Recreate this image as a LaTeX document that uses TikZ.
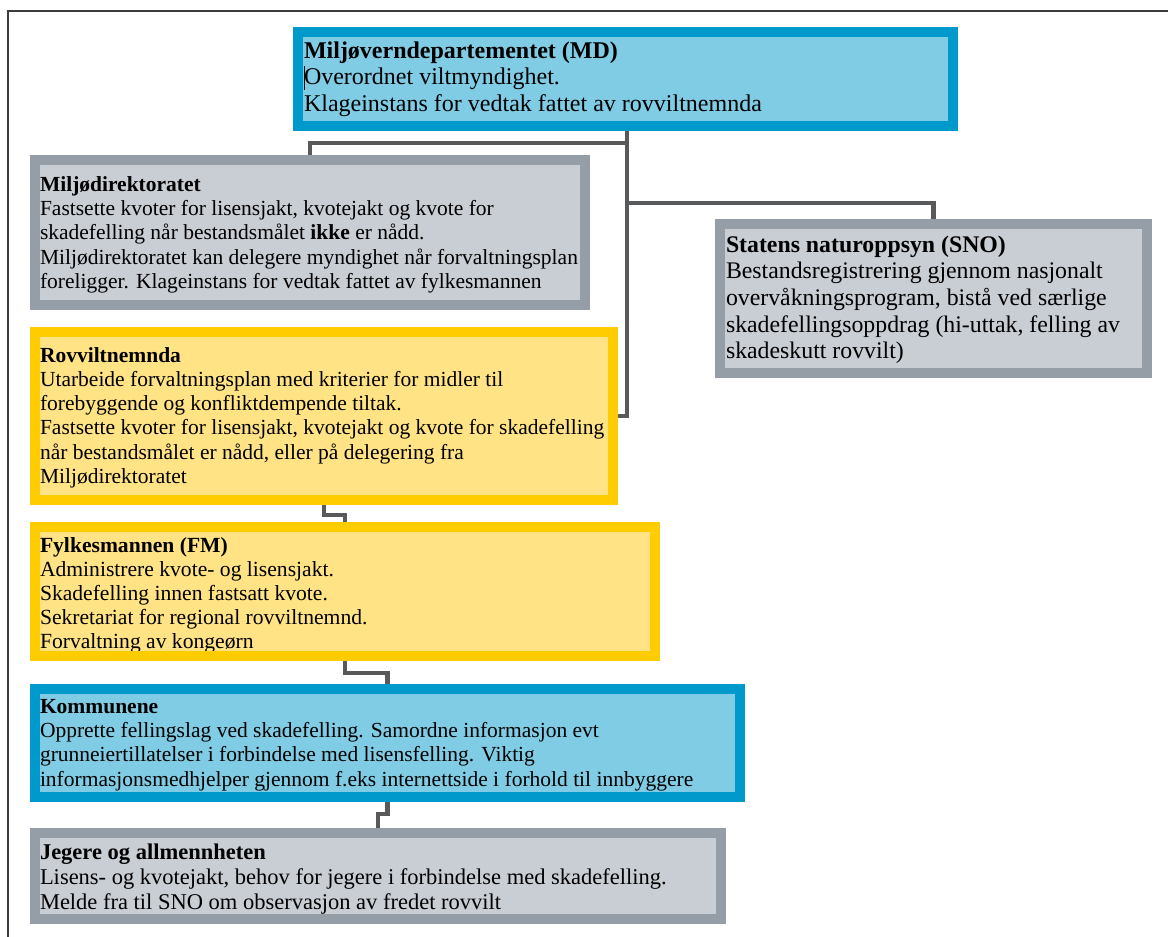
\documentclass[tikz,border=0pt]{standalone}
\usepackage{fontspec}
\setmainfont{Liberation Serif}
\usetikzlibrary{backgrounds,calc}
\definecolor{bluebd}{RGB}{0,153,204}
\definecolor{bluefill}{RGB}{127,204,228}
\definecolor{graybd}{RGB}{149,157,166}
\definecolor{grayfill}{RGB}{201,205,212}
\definecolor{yelbd}{RGB}{255,204,0}
\definecolor{yelfill}{RGB}{255,227,132}
\definecolor{connc}{RGB}{88,89,91}
\definecolor{framec}{RGB}{60,60,60}
\tikzset{
  orgbox/.style={rectangle, line width=10pt, inner sep=0pt, outer sep=0pt, anchor=north west},
  bluebox/.style={orgbox, draw=bluebd, fill=bluefill},
  graybox/.style={orgbox, draw=graybd, fill=grayfill},
  yelbox/.style={orgbox, draw=yelbd, fill=yelfill},
  conn/.style={draw=connc, line width=4.5pt, line join=miter},
  txt/.style={anchor=base west, inner sep=0pt, outer sep=0pt, text=black},
}
\newcommand{\boxtext}[3]{{\fontsize{#1}{#2}\selectfont\begin{tabular}[t]{@{}l@{}}#3\end{tabular}}}
\begin{document}
\begin{tikzpicture}[x=1pt,y=-1pt]
\useasboundingbox (0,0) rectangle (1168,937);

% boxes
\node[bluebox, minimum width=655pt, minimum height=94pt] (md) at (298,32) {};
\node[graybox, minimum width=550pt, minimum height=145pt] (mdir) at (35,160) {};
\node[graybox, minimum width=427pt, minimum height=149pt] (sno) at (720,224) {};
\node[yelbox, minimum width=578pt, minimum height=168pt] (rov) at (35,332) {};
\node[yelbox, minimum width=620pt, minimum height=129pt] (fm) at (35,527) {};
\node[bluebox, minimum width=705pt, minimum height=108pt] (kom) at (35,689) {};
\node[graybox, minimum width=686pt, minimum height=86pt] (jeg) at (35,833) {};

% connector joints
\coordinate (t1) at (627,143);
\coordinate (t2) at (627,203);
\coordinate (j4) at (0,515);
\coordinate (j5) at (0,673);
\coordinate (j6) at (0,814);

\begin{scope}[on background layer]
\fill[white] (0,0) rectangle (1168,937);
\draw[framec, line width=2pt] (7.5,937) -- (7.5,10.5) -- (1168,10.5);
\draw[conn] (md.south -| t1) -- (t1) -| (mdir.north);
\draw[conn] (t1) |- (rov.east);
\draw[conn] (t2) -| (sno.north);
\draw[conn] (rov.south) -- (rov.south |- j4) -| (fm.north);
\draw[conn] (fm.south) -- (fm.south |- j5) -| (kom.north);
\draw[conn] (kom.south) -- (kom.south |- j6) -| (jeg.north);
\end{scope}

% texts
\node[txt] (mdt) at (304,58) {\boxtext{24}{26.5}{\textbf{Miljøverndepartementet (MD)}\\Overordnet viltmyndighet.\\Klageinstans for vedtak fattet av rovviltnemnda}};
\draw[black, line width=1.2pt] (304.5,66) -- (304.5,90);

\node[txt] (mdirt) at (40,191) {\boxtext{21.5}{24.4}{\textbf{Miljødirektoratet}\\Fastsette kvoter for lisensjakt, kvotejakt og kvote for\\skadefelling når bestandsmålet \textbf{ikke} er nådd.\\Miljødirektoratet kan delegere myndighet når forvaltningsplan\\foreligger. Klageinstans for vedtak fattet av fylkesmannen}};

\node[txt] (snot) at (726,252) {\boxtext{23.8}{26.7}{\textbf{Statens naturoppsyn (SNO)}\\Bestandsregistrering gjennom nasjonalt\\overvåkningsprogram, bistå ved særlige\\skadefellingsoppdrag (hi-uttak, felling av\\skadeskutt rovvilt)}};

\node[txt] (rovt) at (40,362) {\boxtext{21.5}{24.3}{\textbf{Rovviltnemnda}\\Utarbeide forvaltningsplan med kriterier for midler til\\forebyggende og konfliktdempende tiltak.\\Fastsette kvoter for lisensjakt, kvotejakt og kvote for skadefelling\\når bestandsmålet er nådd, eller på delegering fra\\Miljødirektoratet}};

\node[txt] (fmt) at (40,552) {\boxtext{21.6}{24.1}{\textbf{Fylkesmannen (FM)}\\Administrere kvote- og lisensjakt.\\Skadefelling innen fastsatt kvote.\\Sekretariat for regional rovviltnemnd.\\Forvaltning av kongeørn}};
% border of FM drawn over its last text line, as in the reference
\draw[yelbd, line width=10pt] (fm.north west) rectangle (fm.south east);

\node[txt] (komt) at (40,713) {\boxtext{21.5}{24.4}{\textbf{Kommunene}\\Opprette fellingslag ved skadefelling. Samordne informasjon evt\\grunneiertillatelser i forbindelse med lisensfelling. Viktig\\informasjonsmedhjelper gjennom f.eks internettside i forhold til innbyggere}};

\node[txt] (jegt) at (40,859) {\boxtext{22.5}{25.3}{\textbf{Jegere og allmennheten}\\Lisens- og kvotejakt, behov for jegere i forbindelse med skadefelling.\\Melde fra til SNO om observasjon av fredet rovvilt}};
\end{tikzpicture}
\end{document}
